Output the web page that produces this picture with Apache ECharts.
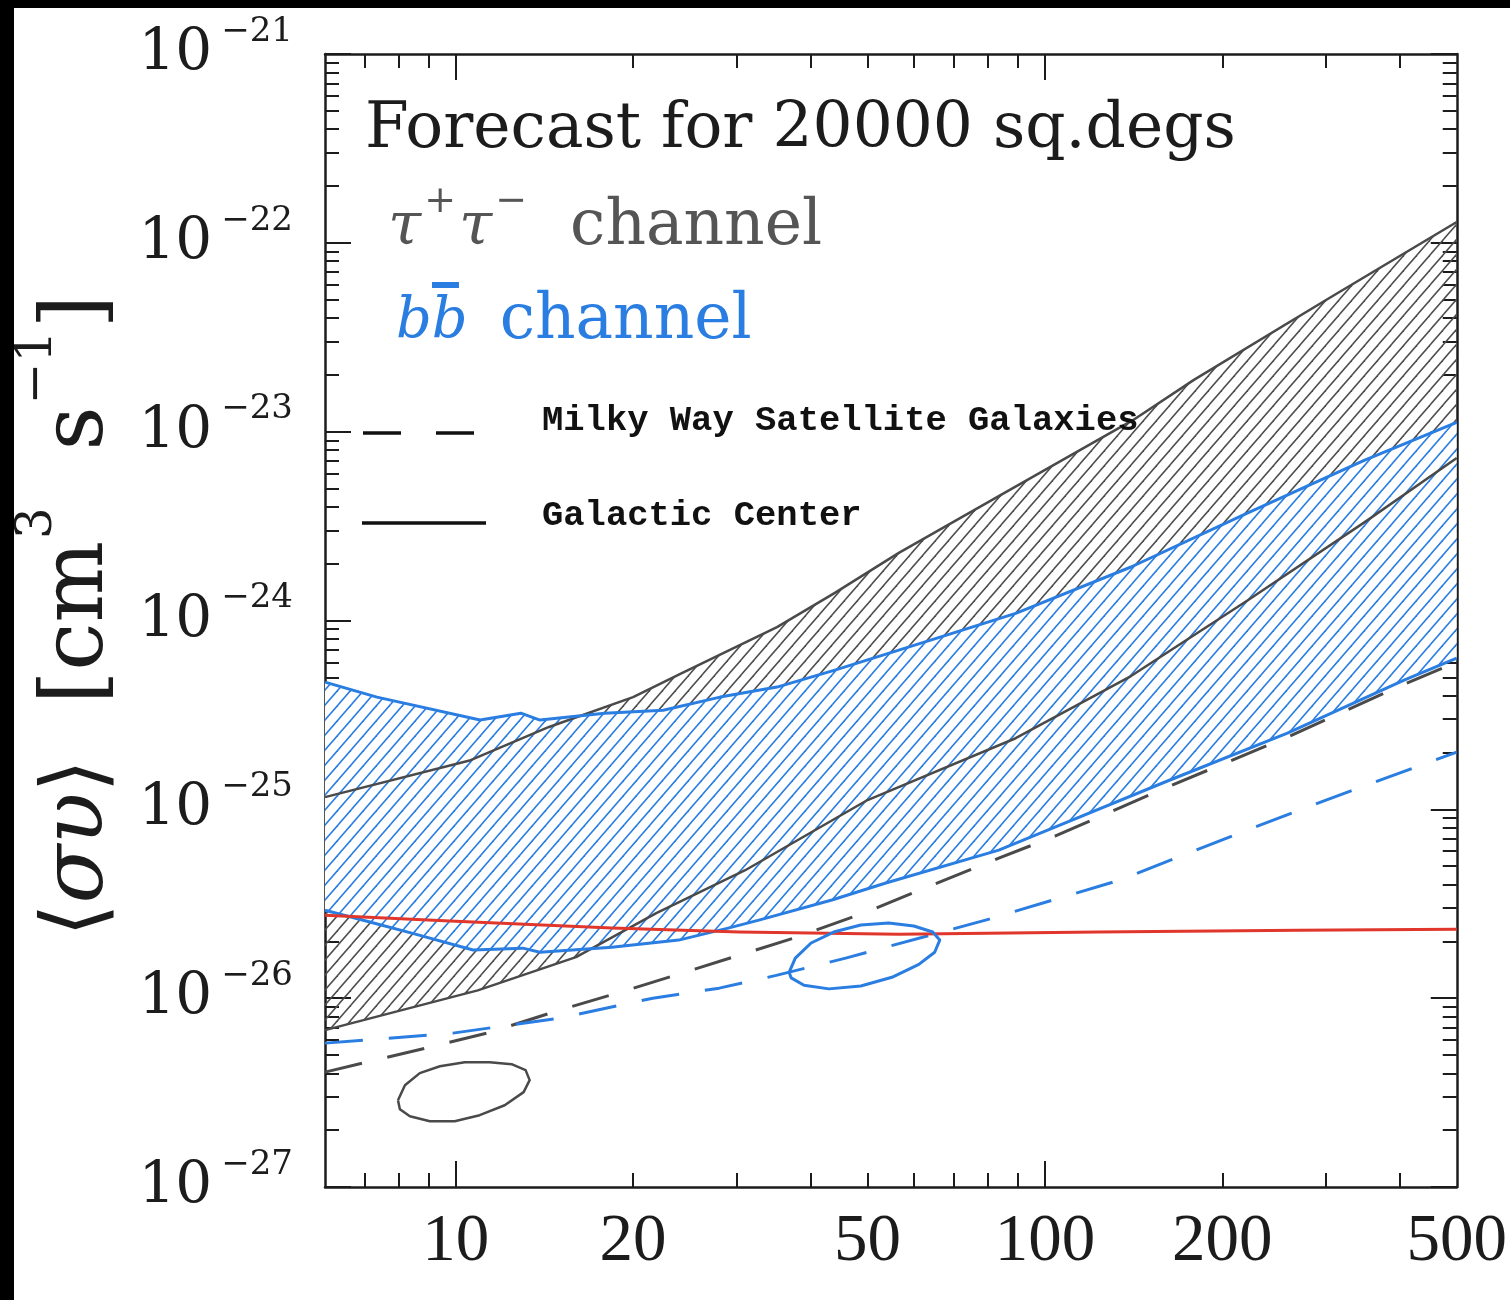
<!DOCTYPE html>
<html>
<head>
<meta charset="utf-8">
<script src="https://cdn.jsdelivr.net/npm/echarts@6.0.0/dist/echarts.min.js"></script>
<style>
html, body { margin: 0; padding: 0; background: #fff; }
#chart { width: 1510px; height: 1300px; }
</style>
</head>
<body>
<div id="chart"></div>
<script>
// Annihilation cross-section <σv> [cm^3 s^-1] versus dark-matter mass [GeV].
// Every point is [mass, sigmaV].

// τ+τ− channel, Galactic Center region (upper and lower edge)
const tauGCUpper = [[6, 1.16e-25], [10.6, 1.82e-25], [14.4, 2.73e-25], [20, 3.93e-25], [24.2, 5.27e-25], [35.1, 9.23e-25], [44, 1.40e-24], [56.5, 2.28e-24], [83.5, 4.56e-24], [141, 1.15e-23], [179, 1.88e-23], [300, 4.98e-23], [500, 1.29e-22]];
const tauGCLower = [[6, 6.77e-27], [10.9, 1.10e-26], [16, 1.65e-26], [21.9, 2.82e-26], [31, 4.76e-26], [50, 1.12e-25], [89.2, 2.38e-25], [140, 5.08e-25], [221, 1.28e-24], [349, 3.32e-24], [500, 7.25e-24]];

// b b̄ channel, Galactic Center region (upper and lower edge)
const bbGCUpper = [[6, 4.72e-25], [7.35, 3.93e-25], [11, 2.97e-25], [12.9, 3.23e-25], [13.9, 2.97e-25], [17.9, 3.23e-25], [22.5, 3.35e-25], [28.1, 3.93e-25], [35.1, 4.44e-25], [44, 5.46e-25], [56.5, 6.97e-25], [89.2, 1.09e-24], [140, 1.92e-24], [221, 3.71e-24], [349, 7.07e-24], [500, 1.12e-23]];
const bbGCLower = [[6, 2.92e-26], [7.15, 2.53e-26], [8.42, 2.21e-26], [10.7, 1.80e-26], [13, 1.84e-26], [13.9, 1.75e-26], [18.4, 1.86e-26], [23.9, 2.03e-26], [29, 2.35e-26], [32.7, 2.59e-26], [43.5, 3.31e-26], [53.7, 4.07e-26], [83.5, 6.08e-26], [104, 8.05e-26], [163, 1.43e-25], [258, 2.53e-25], [407, 4.83e-25], [500, 6.32e-25]];

// Milky Way satellite galaxies forecasts
const tauDwarf = [[6, 4.06e-27], [8.59, 5.30e-27], [11.3, 6.53e-27], [15, 8.64e-27], [19.5, 1.10e-26], [25.2, 1.41e-26], [37.8, 2.10e-26], [49.7, 2.85e-26], [64.3, 3.97e-26], [83.5, 5.51e-26], [104, 7.21e-26], [163, 1.33e-25], [258, 2.41e-25], [407, 4.60e-25], [500, 6.02e-25]];
const bbDwarf = [[6, 5.78e-27], [9.89, 6.53e-27], [15, 7.84e-27], [21.6, 1.00e-26], [28, 1.13e-26], [35, 1.32e-26], [45.9, 1.63e-26], [79.3, 2.59e-26], [134, 4.22e-26], [227, 8.05e-26], [300, 1.12e-25], [500, 2.01e-25]];

// Thermal relic cross-section
const thermalRelic = [[6, 2.75e-26], [9.77, 2.56e-26], [18.4, 2.35e-26], [30.3, 2.24e-26], [56.5, 2.18e-26], [123, 2.24e-26], [269, 2.29e-26], [500, 2.32e-26]];

// Closed best-fit contours
const tauContour = [[7.98, 2.88e-27], [8.2, 3.46e-27], [8.69, 4.01e-27], [9.4, 4.36e-27], [10.36, 4.58e-27], [11.42, 4.58e-27], [12.44, 4.47e-27], [13.14, 4.16e-27], [13.35, 3.68e-27], [13.04, 3.18e-27], [12.11, 2.71e-27], [10.98, 2.40e-27], [9.96, 2.23e-27], [9.04, 2.23e-27], [8.36, 2.37e-27], [8.04, 2.58e-27], [7.98, 2.88e-27]];
const bbContour = [[36.8, 1.37e-26], [37.7, 1.63e-26], [40.1, 1.96e-26], [43.8, 2.24e-26], [48.7, 2.44e-26], [54.3, 2.50e-26], [59.9, 2.41e-26], [64.5, 2.24e-26], [66.3, 2.03e-26], [65, 1.75e-26], [61.1, 1.51e-26], [55, 1.29e-26], [48.7, 1.16e-26], [43, 1.12e-26], [39, 1.17e-26], [37.1, 1.28e-26], [36.8, 1.37e-26]];

// Axis ticks
const xMajorTicks = [10, 100];
const xMinorTicks = [7, 8, 9, 20, 30, 40, 50, 60, 70, 80, 90, 200, 300, 400];
const xTickLabels = [10, 20, 50, 100, 200, 500];
const yDecades = [-27, -26, -25, -24, -23, -22, -21];
const yMinorMantissas = [2, 3, 4, 5, 6, 7, 8, 9];

const INK = '#1c1c1c';
const GRAY = '#4a4a4a';
const BLUE = '#2a7de1';
const RED = '#e0362b';

const lg = Math.log10;
const X_MIN = lg(6), X_MAX = lg(500);
const Y_MIN = -27, Y_MAX = -21;
const toLog = pts => pts.map(p => [lg(p[0]), lg(p[1])]);
const yMinorTicks = [];
yDecades.slice(0, -1).forEach(d => yMinorMantissas.forEach(k => yMinorTicks.push(d + lg(k))));

// Diagonal hatching tile
function makeHatch(color, background, w, h, lw) {
  const c = document.createElement('canvas');
  c.width = w; c.height = h;
  const g = c.getContext('2d');
  if (background) { g.fillStyle = background; g.fillRect(0, 0, w, h); }
  g.strokeStyle = color; g.lineWidth = lw;
  for (let k = -1; k <= 1; k++) {
    g.beginPath();
    g.moveTo(-w + k * w, 2 * h);
    g.lineTo(2 * w + k * w, -h);
    g.stroke();
  }
  return c;
}
const hatchGray = makeHatch('#4d4d4d', null, 13, 15, 1.5);
const hatchBlue = makeHatch(BLUE, '#ffffff', 13, 15, 1.6);

function xAxis(position, ticks, len, main) {
  return {
    type: 'value', position, min: X_MIN, max: X_MAX,
    axisLine: { show: main, onZero: false, lineStyle: { color: INK, width: 2.5 } },
    axisTick: { show: true, inside: true, length: len, customValues: ticks.map(lg), lineStyle: { color: INK, width: 2 } },
    axisLabel: (main && position === 'bottom') ? {
      show: true, customValues: xTickLabels.map(lg),
      formatter: v => String(Math.round(Math.pow(10, v))),
      margin: 22, color: INK, fontFamily: 'Liberation Serif', fontSize: 67
    } : { show: false },
    splitLine: { show: false }
  };
}
function yAxis(position, ticks, len, main) {
  return {
    type: 'value', position, min: Y_MIN, max: Y_MAX,
    axisLine: { show: main, onZero: false, lineStyle: { color: INK, width: 2.5 } },
    axisTick: { show: true, inside: true, length: len, customValues: ticks, lineStyle: { color: INK, width: 2 } },
    axisLabel: (main && position === 'left') ? {
      show: true, customValues: yDecades, margin: 32,
      formatter: v => '{b|10}{s|\u2212' + Math.abs(Math.round(v)) + '}',
      rich: {
        b: { fontFamily: 'DejaVu Serif', fontSize: 58, color: INK, verticalAlign: 'middle' },
        s: { fontFamily: 'DejaVu Serif', fontSize: 34, color: INK, verticalAlign: 'middle', padding: [0, 0, 44, 9] }
      }
    } : { show: false },
    splitLine: { show: false }
  };
}

function band(upper, lower, fill, z) {
  const ring = toLog(upper.concat(lower.slice().reverse()));
  return {
    type: 'custom', coordinateSystem: 'cartesian2d', xAxisIndex: 0, yAxisIndex: 0,
    z, silent: true, clip: true, data: ring,
    renderItem: (params, api) => params.dataIndex === 0 ? {
      type: 'polygon',
      shape: { points: ring.map(p => api.coord(p)) },
      style: { fill: fill, stroke: null }
    } : null
  };
}
function curve(name, data, color, width, dash, z) {
  return {
    name, type: 'line', data: toLog(data), xAxisIndex: 0, yAxisIndex: 0,
    showSymbol: false, symbol: 'none', smooth: false, z, silent: true, clip: true,
    lineStyle: { color, width, type: dash || 'solid', cap: 'butt', join: 'round' },
    emphasis: { disabled: true }
  };
}

const chart = echarts.init(document.getElementById('chart'), null, { renderer: 'canvas' });
chart.setOption({
  animation: false,
  backgroundColor: '#ffffff',
  grid: { left: 325, right: 51, top: 54, bottom: 113, containLabel: false },
  xAxis: [
    xAxis('bottom', xMinorTicks, 14, true),
    xAxis('bottom', xMajorTicks, 26, false),
    xAxis('top', xMinorTicks, 14, true),
    xAxis('top', xMajorTicks, 26, false)
  ],
  yAxis: [
    yAxis('left', yMinorTicks, 14, true),
    yAxis('left', yDecades, 26, false),
    yAxis('right', yMinorTicks, 14, true),
    yAxis('right', yDecades, 26, false)
  ],
  series: [
    band(tauGCUpper, tauGCLower, { image: hatchGray, repeat: 'repeat' }, 1),
    band(bbGCUpper, bbGCLower, { image: hatchBlue, repeat: 'repeat' }, 2),
    curve('τ+τ− GC upper', tauGCUpper, GRAY, 2.5, null, 3),
    curve('τ+τ− GC lower', tauGCLower, GRAY, 2.5, null, 3),
    curve('τ+τ− dwarfs', tauDwarf, GRAY, 3, [38, 26], 3),
    curve('bb GC upper', bbGCUpper, BLUE, 3, null, 4),
    curve('bb GC lower', bbGCLower, BLUE, 3, null, 4),
    curve('bb dwarfs', bbDwarf, BLUE, 3, [38, 26], 4),
    curve('thermal relic', thermalRelic, RED, 3, null, 5),
    curve('τ+τ− contour', tauContour, GRAY, 2.5, null, 6),
    curve('bb contour', bbContour, BLUE, 3, null, 6)
  ],
  graphic: [
    { type: 'rect', shape: { x: 0, y: 0, width: 1510, height: 8 }, style: { fill: '#000' }, z: 100 },
    { type: 'rect', shape: { x: 0, y: 0, width: 14, height: 1300 }, style: { fill: '#000' }, z: 100 },
    { type: 'text', x: 365, y: 131, z: 50,
      style: { text: 'Forecast for 20000 sq.degs', fontFamily: 'DejaVu Serif', fontSize: 63, fill: INK, verticalAlign: 'middle' } },
    { type: 'text', x: 388, y: 228, z: 50,
      style: {
        text: '{t|τ}{p|+}{t|τ}{p|\u2212}{n|  channel}', fill: '#555555', verticalAlign: 'middle',
        rich: {
          t: { fontFamily: 'DejaVu Serif', fontStyle: 'italic', fontSize: 60, fill: '#555555', verticalAlign: 'middle' },
          p: { fontFamily: 'DejaVu Serif', fontSize: 38, fill: '#555555', verticalAlign: 'middle', padding: [0, 3, 52, 3] },
          n: { fontFamily: 'DejaVu Serif', fontSize: 63, fill: '#555555', verticalAlign: 'middle' }
        }
      } },
    { type: 'text', x: 396, y: 322, z: 50,
      style: {
        text: '{t|bb}{n|channel}', fill: BLUE, verticalAlign: 'middle',
        rich: {
          t: { fontFamily: 'DejaVu Serif', fontStyle: 'italic', fontSize: 56, fill: BLUE, verticalAlign: 'middle' },
          n: { fontFamily: 'DejaVu Serif', fontSize: 63, fill: BLUE, verticalAlign: 'middle', padding: [0, 0, 0, 32] }
        }
      } },
    { type: 'rect', shape: { x: 432, y: 282, width: 27, height: 6 }, style: { fill: BLUE }, z: 50 },
    { type: 'line', shape: { x1: 363, y1: 433, x2: 401, y2: 433 }, style: { stroke: '#111', lineWidth: 3.5 }, z: 50 },
    { type: 'line', shape: { x1: 436, y1: 433, x2: 474, y2: 433 }, style: { stroke: '#111', lineWidth: 3.5 }, z: 50 },
    { type: 'line', shape: { x1: 362, y1: 523, x2: 486, y2: 523 }, style: { stroke: '#111', lineWidth: 3.5 }, z: 50 },
    { type: 'text', x: 542, y: 421, z: 50,
      style: { text: 'Milky Way Satellite Galaxies', fontFamily: 'Liberation Mono', fontWeight: 'bold', fontSize: 35.5, fill: '#111', verticalAlign: 'middle' } },
    { type: 'text', x: 542, y: 516, z: 50,
      style: { text: 'Galactic Center', fontFamily: 'Liberation Mono', fontWeight: 'bold', fontSize: 35.5, fill: '#111', verticalAlign: 'middle' } },
    { type: 'text', x: 80, y: 616, rotation: Math.PI / 2, z: 50,
      style: {
        text: '{n|\u27E8}{i|συ}{n|\u27E9  [cm}{s|3}{n|  s}{s|\u22121}{n|]}', fill: INK,
        align: 'center', verticalAlign: 'middle',
        rich: {
          n: { fontFamily: 'DejaVu Serif', fontSize: 86, fill: INK, verticalAlign: 'middle' },
          i: { fontFamily: 'DejaVu Serif', fontStyle: 'italic', fontSize: 86, fill: INK, verticalAlign: 'middle' },
          s: { fontFamily: 'DejaVu Serif', fontSize: 50, fill: INK, verticalAlign: 'middle', padding: [0, 2, 84, 2] }
        }
      } }
  ]
});
</script>
</body>
</html>
